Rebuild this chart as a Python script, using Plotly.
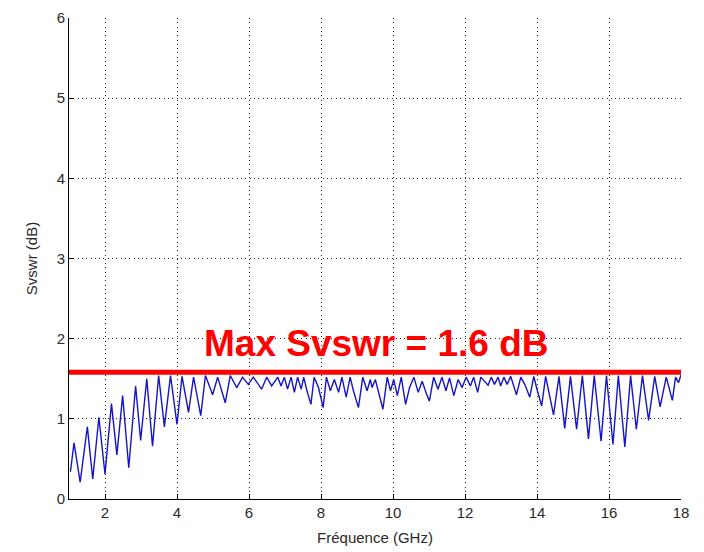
import plotly.graph_objects as go

# Frequency (GHz) and Svswr (dB) (local extremes of the trace)
freq_ghz = [
    1.04, 1.14, 1.31, 1.51, 1.66, 1.83, 2.00, 2.18, 2.33, 2.49,
    2.66, 2.85, 2.99, 3.16, 3.32, 3.49, 3.65, 3.82, 4.00, 4.14,
    4.32, 4.46, 4.66, 4.79, 4.99, 5.13, 5.34, 5.48, 5.66, 5.82,
    5.98, 6.12, 6.35, 6.49, 6.63, 6.80, 6.89, 6.98, 7.07, 7.17,
    7.26, 7.35, 7.45, 7.52, 7.61, 7.72, 7.81, 7.93, 8.06, 8.15,
    8.26, 8.37, 8.49, 8.58, 8.70, 8.81, 8.90, 9.04, 9.16, 9.28,
    9.37, 9.42, 9.51, 9.61, 9.72, 9.84, 9.93, 10.02, 10.12, 10.23,
    10.35, 10.46, 10.58, 10.70, 10.81, 10.90, 11.01, 11.13, 11.25, 11.36,
    11.47, 11.57, 11.69, 11.81, 11.92, 12.03, 12.15, 12.24, 12.35, 12.44,
    12.55, 12.64, 12.73, 12.82, 12.92, 12.99, 13.08, 13.17, 13.27, 13.43,
    13.55, 13.66, 13.80, 13.91, 14.01, 14.13, 14.24, 14.46, 14.61, 14.77,
    14.93, 15.10, 15.26, 15.43, 15.59, 15.78, 15.93, 16.11, 16.26, 16.44,
    16.60, 16.76, 16.93, 17.10, 17.27, 17.42, 17.59, 17.76, 17.85, 17.93,
    18.00,
]
svswr_db = [
    0.34, 0.70, 0.21, 0.90, 0.25, 1.02, 0.31, 1.19, 0.55, 1.29,
    0.39, 1.41, 0.73, 1.50, 0.66, 1.54, 0.90, 1.54, 0.93, 1.53,
    1.08, 1.52, 1.04, 1.54, 1.30, 1.52, 1.20, 1.54, 1.39, 1.52,
    1.43, 1.52, 1.37, 1.52, 1.41, 1.52, 1.41, 1.52, 1.37, 1.52,
    1.33, 1.52, 1.37, 1.52, 1.35, 1.18, 1.52, 1.39, 1.14, 1.52,
    1.35, 1.49, 1.33, 1.52, 1.27, 1.52, 1.35, 1.14, 1.52, 1.35,
    1.49, 1.39, 1.49, 1.31, 1.12, 1.52, 1.35, 1.49, 1.29, 1.52,
    1.18, 1.39, 1.52, 1.33, 1.47, 1.35, 1.22, 1.52, 1.37, 1.52,
    1.35, 1.51, 1.29, 1.49, 1.39, 1.52, 1.41, 1.52, 1.33, 1.52,
    1.47, 1.42, 1.52, 1.43, 1.52, 1.41, 1.52, 1.43, 1.53, 1.30,
    1.52, 1.43, 1.27, 1.53, 1.35, 1.16, 1.53, 1.05, 1.53, 0.88,
    1.53, 0.87, 1.54, 0.75, 1.54, 0.72, 1.54, 0.68, 1.54, 0.65,
    1.54, 0.87, 1.54, 0.98, 1.53, 1.15, 1.52, 1.23, 1.52, 1.45,
    1.55,
]

max_level_db = 1.58
max_label = "Max Svswr = 1.6 dB"

x_ticks = [2, 4, 6, 8, 10, 12, 14, 16, 18]
y_ticks = [0, 1, 2, 3, 4, 5, 6]

fig = go.Figure()
fig.add_trace(go.Scatter(
    x=freq_ghz, y=svswr_db, mode="lines",
    line=dict(color="#1414c8", width=1.4), showlegend=False, hoverinfo="skip",
))
fig.add_trace(go.Scatter(
    x=[1, 18], y=[max_level_db, max_level_db], mode="lines",
    line=dict(color="#ff0000", width=5), showlegend=False, hoverinfo="skip",
))
fig.add_annotation(
    x=9.53, y=max_level_db, yshift=6, yanchor="bottom", xanchor="center",
    text=f"<b>{max_label}</b>", showarrow=False,
    font=dict(family="Liberation Sans, Arial", size=37, color="#ff0000"),
)

axis_font = dict(family="Liberation Sans, Arial", size=15, color="#2a2a2a")
grid_dash = "1px,3.3px"
fig.update_xaxes(
    range=[1, 18], tickvals=x_ticks, ticks="inside", ticklen=5, tickcolor="#000000",
    showline=True, linecolor="#000000", linewidth=1, mirror=False,
    showgrid=True, gridcolor="#202020", gridwidth=1, griddash=grid_dash,
    zeroline=False, tickfont=axis_font, automargin=False,
    title=dict(text="Fréquence (GHz)", font=axis_font, standoff=12),
)
fig.update_yaxes(
    range=[0, 6], tickvals=y_ticks, ticks="inside", ticklen=5, tickcolor="#000000",
    showline=True, linecolor="#000000", linewidth=1, mirror=False,
    showgrid=True, gridcolor="#202020", gridwidth=1, griddash=grid_dash,
    zeroline=False, tickfont=axis_font, automargin=False,
    title=dict(text="Svswr (dB)", font=axis_font, standoff=15),
)
fig.update_layout(
    width=704, height=552,
    margin=dict(l=69, r=23, t=18, b=53),
    paper_bgcolor="#ffffff", plot_bgcolor="#ffffff",
    showlegend=False,
)
fig.write_html("out.html")
